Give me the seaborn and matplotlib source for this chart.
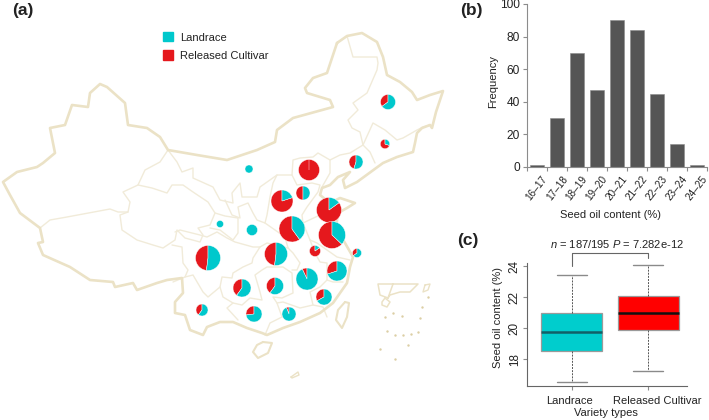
import numpy as np
import pandas as pd
import matplotlib.pyplot as plt
import seaborn as sns
from matplotlib.patches import Patch
from matplotlib.transforms import ScaledTranslation

# ==========================
# DATA
# ==========================

# panel b
oil_bins = ["16-17", "17-18", "18-19", "19-20", "20-21", "21-22", "22-23", "23-24", "24-25"]
oil_freq = [1, 30, 70, 47, 90, 84, 45, 14, 1]

# panel c: low whisker, q1, median, q3, high whisker
variety_types = ["Landrace", "Released Cultivar"]
landrace_stats = [16.55, 18.5, 19.75, 21.0, 23.45]
cultivar_stats = [17.2, 19.9, 21.0, 22.05, 24.1]

# panel a: pies, in picture coordinates
pie_x = [388, 385, 356, 249, 309, 303, 282, 329, 332, 292, 220, 252,
         208, 276, 315, 357, 337, 307, 275, 242, 324, 289, 254, 202]
pie_y = [102, 144, 162, 169, 170, 193, 201, 210, 235, 229, 224, 230,
         258, 254, 251, 253, 271, 279, 286, 288, 297, 314, 314, 310]
pie_r = [7.5, 4.7, 7, 4, 10.5, 7, 11, 12.5, 13.5, 13, 3.5, 5.5,
         12.5, 11.5, 5.5, 4.5, 10, 11, 8.5, 9, 8, 7, 8, 6]
pie_red = [35, 70, 45, 0, 100, 50, 80, 85, 63, 60, 0, 0,
           48, 48, 85, 35, 30, 7, 40, 40, 33, 6, 27, 40]

# panel a: map outlines, in picture coordinates
china_border = [
    (337, 43), (347, 36), (362, 33), (377, 42), (383, 57), (387, 75), (400, 82), (412, 92),
    (417, 100), (430, 95), (443, 91), (440, 100), (436, 112), (432, 128), (430, 125), (422, 128),
    (417, 133), (415, 143), (413, 152), (397, 157), (383, 163), (357, 182), (345, 188), (343, 180),
    (350, 172), (338, 177), (330, 185), (322, 188), (320, 195), (330, 203), (340, 198), (355, 203),
    (347, 208), (338, 213), (336, 228), (345, 243), (353, 257), (350, 267), (347, 283), (333, 303),
    (320, 313), (300, 322), (283, 328), (267, 335), (262, 333), (247, 328), (233, 322), (220, 322),
    (207, 327), (203, 335), (190, 330), (185, 315), (175, 313), (175, 302), (183, 293), (182, 278),
    (167, 280), (157, 283), (137, 290), (133, 283), (115, 287), (113, 282), (90, 280), (70, 267),
    (43, 255), (38, 243), (43, 242), (40, 228), (20, 213), (10, 195), (3, 182), (17, 172),
    (37, 167), (43, 163), (55, 153), (50, 128), (65, 125), (72, 105), (88, 107), (90, 93),
    (100, 84), (107, 87), (125, 103), (128, 125), (147, 128), (160, 137), (168, 150), (197, 155),
    (227, 160), (257, 150), (275, 142), (277, 130), (293, 118), (333, 107), (330, 100), (307, 93),
    (305, 88), (313, 78), (327, 73), (337, 43),
]
province_lines = [
    [(168, 150), (160, 162), (145, 170), (138, 185), (123, 192), (130, 202), (128, 212), (118, 212), (110, 209), (67, 217), (50, 220), (40, 228)],
    [(128, 212), (120, 215), (122, 230), (137, 240), (153, 245), (163, 248), (175, 240), (177, 230), (185, 238), (200, 242), (203, 235), (198, 228), (210, 225), (215, 213), (208, 202), (193, 192), (183, 185), (172, 185), (167, 193), (152, 188), (138, 185)],
    [(168, 150), (177, 162), (182, 172), (193, 168), (193, 178), (213, 187), (220, 200), (233, 203), (232, 193), (240, 183), (242, 197), (257, 197), (260, 187), (277, 175), (292, 175), (293, 160), (300, 158), (313, 157), (318, 153), (330, 160), (340, 155), (350, 153), (363, 145), (360, 132), (352, 128), (348, 120), (358, 110), (353, 103), (367, 93), (377, 70), (378, 63), (377, 57), (353, 57), (347, 36)],
    [(225, 200), (232, 215), (240, 218), (238, 207), (248, 203), (253, 213), (257, 220), (265, 223), (267, 215), (270, 197), (273, 183), (277, 175)],
    [(215, 213), (225, 216), (238, 218), (238, 233), (233, 240), (220, 230), (210, 228)],
    [(175, 232), (180, 230), (200, 235), (207, 237), (217, 232), (227, 238), (235, 242), (253, 247), (260, 247), (253, 258), (252, 263), (243, 267), (233, 273), (232, 278), (222, 277), (220, 287), (208, 297), (203, 292), (193, 275), (185, 277), (173, 282)],
    [(172, 245), (182, 247), (183, 263), (188, 270), (185, 277)],
    [(220, 287), (223, 297), (233, 303), (227, 308), (238, 320)],
    [(233, 303), (242, 305), (250, 298), (262, 300), (260, 292), (255, 275), (262, 270), (267, 267), (283, 267), (292, 273), (293, 293), (282, 298), (273, 297), (277, 303), (282, 317), (270, 323), (265, 335)],
    [(277, 303), (283, 302), (300, 308), (313, 305), (323, 307), (327, 317)],
    [(313, 305), (310, 292), (320, 287), (327, 280), (333, 282), (343, 282)],
    [(327, 280), (327, 263), (320, 262), (315, 253), (310, 240), (317, 243), (337, 257), (350, 260)],
    [(292, 270), (297, 270), (300, 263), (293, 253), (288, 248), (267, 243), (260, 247)],
    [(288, 248), (285, 237), (303, 223), (302, 215), (307, 207), (318, 192), (320, 185), (312, 183), (297, 185), (292, 175)],
    [(265, 223), (285, 237)],
    [(303, 223), (320, 215), (336, 222)],
    [(310, 240), (303, 223)],
    [(322, 187), (330, 173), (330, 160)],
    [(363, 145), (370, 152), (375, 163)],
    [(363, 145), (373, 123), (385, 130), (397, 140), (403, 138), (417, 130), (423, 127), (430, 125)],
]
taiwan = [(345, 302), (349, 303), (347, 317), (342, 328), (336, 320), (338, 310), (345, 302)]
hainan = [(263, 342), (272, 343), (268, 353), (258, 358), (253, 352), (257, 345), (263, 342)]
islet = [(291, 377), (298, 372), (299, 375), (292, 378), (291, 377)]
sea_box = [(393, 284), (378, 284), (380, 295), (388, 298), (390, 295), (400, 292), (410, 292), (418, 284), (393, 284), (388, 298)]
sea_hainan = [(385, 298), (390, 302), (387, 307), (382, 305), (382, 302), (385, 298)]
sea_taiwan = [(425, 285), (430, 284), (428, 290), (423, 292), (425, 285)]
sea_islands_x = [385, 393, 402, 420, 422, 428, 387, 418, 408, 380, 395, 395, 403, 411]
sea_islands_y = [317, 313, 316, 318, 307, 297, 331, 332, 345, 349, 359, 335, 335, 334]

# ==========================
# STYLE
# ==========================

sns.set_style("white")
plt.rcParams["font.family"] = ["Liberation Sans", "DejaVu Sans"]
plt.rcParams["mathtext.fontset"] = "custom"
plt.rcParams["mathtext.it"] = "Liberation Sans:italic"
plt.rcParams["mathtext.rm"] = "Liberation Sans"

W, H = 709, 420
TEXT = "#222222"
AXIS = "#8c8c8c"
BORDER = "#ebe2c6"
RED = "#e5181d"
CYAN = "#00c8cc"


def px_axes(left, top, right, bottom):
    return fig.add_axes([left / W, 1 - bottom / H, (right - left) / W, (bottom - top) / H])


fig = plt.figure(figsize=(W / 100, H / 100), dpi=100)

# ==========================
# (a) MAP WITH PIES
# ==========================

ax_map = fig.add_axes([0, 0, 1, 1])

for line in province_lines:
    xs, ys = zip(*line)
    ax_map.plot(xs, ys, color="#f1ebd9", linewidth=1.0, solid_joinstyle="round", zorder=1)
for line, lw in [(china_border, 1.9), (taiwan, 1.5), (hainan, 1.5), (islet, 1.0),
                 (sea_box, 1.1), (sea_hainan, 1.1), (sea_taiwan, 1.0)]:
    xs, ys = zip(*line)
    ax_map.plot(xs, ys, color=BORDER, linewidth=lw, solid_joinstyle="round", zorder=2)
ax_map.scatter(sea_islands_x, sea_islands_y, s=3, color="#dccfa5", linewidths=0, zorder=2)

for x, y, r, red in zip(pie_x, pie_y, pie_r, pie_red):
    # the y axis runs downwards here, so the pie is turned the other way round
    ax_map.pie([red, 100 - red], colors=[RED, CYAN], center=(x, y), radius=r,
               startangle=-90, counterclock=False, frame=True,
               wedgeprops=dict(edgecolor="white", linewidth=0.3, zorder=5))

ax_map.set_xlim(0, W)
ax_map.set_ylim(H, 0)
ax_map.axis("off")

ax_map.legend(
    handles=[Patch(color=CYAN, label="Landrace"), Patch(color=RED, label="Released Cultivar")],
    loc="upper left", bbox_to_anchor=(160.5 / W, 1 - 30 / H), frameon=False, fontsize=8,
    handlelength=0.9, handleheight=0.9, handletextpad=0.65, labelspacing=0.7,
    labelcolor=TEXT, borderpad=0.2, borderaxespad=0,
)

fig.text(12 / W, 1 - 11 / H, "(a)", fontsize=12.5, fontweight="bold", va="center", color=TEXT)
fig.text(460 / W, 1 - 11 / H, "(b)", fontsize=12.5, fontweight="bold", va="center", color=TEXT)
fig.text(457 / W, 1 - 240 / H, "(c)", fontsize=12.5, fontweight="bold", va="center", color=TEXT)

# ==========================
# (b) HISTOGRAM
# ==========================

ax_b = px_axes(527, 4, 707, 167)
ax_b.patch.set_alpha(0)
sns.barplot(x=oil_bins, y=oil_freq, color="#555555", saturation=1, width=0.74,
            edgecolor="#8a8a8a", linewidth=0.4, ax=ax_b)
ax_b.set_xlim(-0.5, 8.5)
ax_b.set_ylim(0, 100)
ax_b.set_yticks(range(0, 101, 20))
ax_b.set_xticks(np.arange(-0.5, 9), minor=True)
ax_b.set_xticks(range(len(oil_bins)))
ax_b.set_xticklabels([b.replace("-", "\u2013") for b in oil_bins], rotation=52, ha="center", va="top")
ax_b.tick_params(axis="x", which="major", length=0, pad=5, labelsize=7.2, labelcolor=TEXT)
ax_b.tick_params(axis="x", which="minor", bottom=True, length=3, color=AXIS, width=0.8)
ax_b.tick_params(axis="y", left=True, length=3, color=AXIS, width=0.8, labelsize=8.6, labelcolor=TEXT, pad=2)
ax_b.set_xlabel("Seed oil content (%)", fontsize=8, color=TEXT, va="center")
ax_b.xaxis.set_label_coords((610 - 527) / 180, -(215 - 167) / 163, transform=ax_b.transAxes)
ax_b.set_ylabel("Frequency", fontsize=8, color=TEXT, va="center")
ax_b.yaxis.set_label_coords((493 - 527) / 180, (167 - 82) / 163, transform=ax_b.transAxes)
sns.despine(ax=ax_b)
for side in ["left", "bottom"]:
    ax_b.spines[side].set_color(AXIS)
    ax_b.spines[side].set_linewidth(0.8)

# ==========================
# (c) BOXPLOT
# ==========================

ax_c = px_axes(527, 263, 687, 386)
ax_c.patch.set_alpha(0)
df = pd.DataFrame({
    "type": [variety_types[0]] * 5 + [variety_types[1]] * 5,
    "oil": landrace_stats + cultivar_stats,
})

# five numbers per box, whiskers reach the ends with whis=inf
for name, fill, mid in [(variety_types[0], "#00cdcd", "#125f66"), (variety_types[1], "#ff0000", "#111111")]:
    sns.boxplot(
        data=df[df["type"] == name], x="type", y="oil", order=variety_types,
        color=fill, saturation=1, width=0.8, whis=np.inf, linecolor="#9a9a9a", linewidth=0.9,
        medianprops=dict(color=mid, linewidth=1.8),
        whiskerprops=dict(color="#555555", linestyle=(0, (2, 1.2)), linewidth=0.7),
        capprops=dict(color="#8a8a8a", linewidth=1.0),
        ax=ax_c,
    )

ax_c.set_xlim(-0.587, 1.51)
ax_c.set_ylim(16.26, 24.2)
ax_c.set_yticks([18, 20, 22, 24])
ax_c.tick_params(axis="y", left=True, length=3, color=AXIS, width=0.8, labelsize=8.4, labelcolor=TEXT, pad=1.5)
plt.setp(ax_c.get_yticklabels(), rotation=90, va="center")
ax_c.tick_params(axis="x", bottom=True, length=3, color=AXIS, width=0.8, labelsize=8, labelcolor=TEXT, pad=4)
shifts = [-2, 9]
for lab, dx in zip(ax_c.get_xticklabels(), shifts):
    lab.set_transform(lab.get_transform() + ScaledTranslation(dx / 100, 0, fig.dpi_scale_trans))
ax_c.set_xlabel("Variety types", fontsize=8, color=TEXT, va="center")
ax_c.xaxis.set_label_coords((606 - 527) / 160, -(413 - 386) / 123, transform=ax_c.transAxes)
ax_c.set_ylabel("Seed oil content (%)", fontsize=8, color=TEXT, va="center")
ax_c.yaxis.set_label_coords((498 - 527) / 160, (386 - 318) / 123, transform=ax_c.transAxes)
sns.despine(ax=ax_c)
for side in ["left", "bottom"]:
    ax_c.spines[side].set_color("#666666")
    ax_c.spines[side].set_linewidth(0.8)

ax_c.plot([0, 0, 1, 1], [24.0, 24.85, 24.85, 24.5], color="#666666", linewidth=0.8, clip_on=False)
ax_c.text(0.59, 25.4, r"$\it{n}$ = 187/195 $\it{P}$ = 7.282e-12", fontsize=8, color=TEXT,
          ha="center", va="center", clip_on=False)

plt.savefig("out.png", dpi=100)
plt.close()
